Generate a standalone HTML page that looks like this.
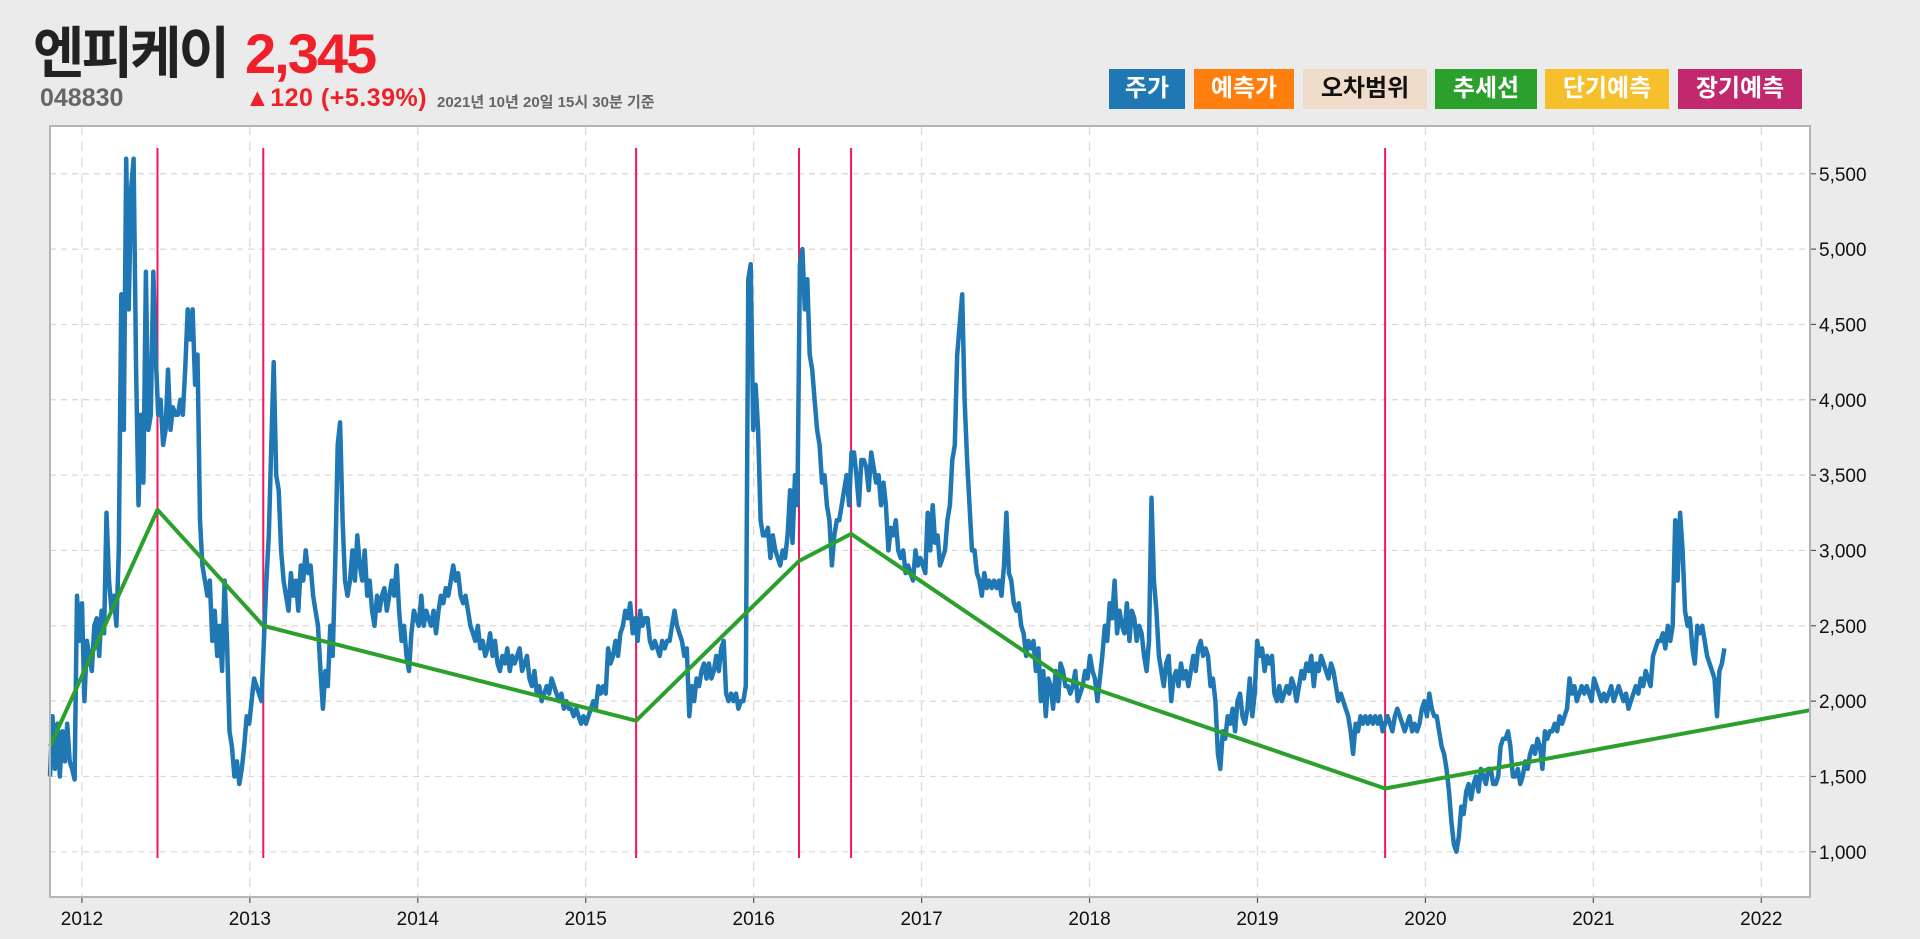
<!DOCTYPE html>
<html><head><meta charset="utf-8">
<style>
html,body{margin:0;padding:0;background:#ebebeb;width:1920px;height:939px;overflow:hidden;font-family:"Liberation Sans","Noto Sans CJK KR",sans-serif;}
.abs{position:absolute;}
.title{left:33px;top:22px;font-size:56px;font-weight:bold;color:#222;letter-spacing:-3px;line-height:64px;}
.price{left:245px;top:22px;font-size:56px;font-weight:bold;color:#f0202a;line-height:64px;letter-spacing:-2px;}
.code{left:40px;top:84px;font-size:25px;font-weight:bold;color:#666;}
.chg{left:245px;top:84px;font-size:25px;font-weight:bold;color:#f0202a;letter-spacing:0.5px;}
.date{left:437px;top:91px;font-size:15px;font-weight:bold;color:#666;}
.leg{top:69px;height:40px;line-height:40px;text-align:center;font-size:24px;font-weight:bold;color:#fff;}
</style></head><body>
<div class="abs title">엔피케이</div>
<div class="abs price">2,345</div>
<div class="abs code">048830</div>
<div class="abs chg">▲120 (+5.39%)</div>
<div class="abs date">2021년 10년 20일 15시 30분 기준</div>
<div class="abs leg" style="left:1109px;width:76px;background:#1f77b4">주가</div>
<div class="abs leg" style="left:1194px;width:100px;background:#ff7f0e">예측가</div>
<div class="abs leg" style="left:1303px;width:124px;background:#efdccb;color:#111">오차범위</div>
<div class="abs leg" style="left:1435px;width:102px;background:#2ca02c">추세선</div>
<div class="abs leg" style="left:1545px;width:124px;background:#f5c02c">단기예측</div>
<div class="abs leg" style="left:1678px;width:124px;background:#c2286e">장기예측</div>
<svg id="chart" class="abs" style="left:0;top:0" width="1920" height="939"></svg>
<script>
const yTicks=[1000,1500,2000,2500,3000,3500,4000,4500,5000,5500];
const xTickYears=[2012,2013,2014,2015,2016,2017,2018,2019,2020,2021,2022];
const signalDates=[2012.45,2013.08,2015.30,2016.27,2016.58,2019.76];
const trendDates=[2011.81,2012.45,2013.08,2015.30,2016.27,2016.58,2017.85,2019.76,2022.29];
const trendValues=[1700,3270,2500,1870,2930,3110,2150,1420,1940];
const priceStart=2011.81, priceEnd=2021.78;
const priceValues=[1500,1900,1550,1850,1500,1800,1600,1850,1600,1550,1480,2700,2400,2650,2000,2400,2300,2200,2500,2550,2300,2600,2450,3250,2800,2600,2700,2500,3000,4700,3800,5600,4600,5400,5600,4200,3300,3900,3450,4850,3800,3900,4850,4300,3900,4000,3700,3800,4200,3800,3950,3900,3900,4000,3900,4200,4600,4400,4600,4100,4300,3200,2900,2800,2700,2800,2400,2600,2300,2500,2200,2800,2400,1800,1700,1500,1600,1450,1550,1700,1900,1850,2000,2150,2100,2050,2000,2400,2800,3100,3700,4250,3500,3400,3000,2800,2700,2600,2850,2700,2800,2600,2900,2800,3000,2850,2900,2700,2600,2500,2200,1950,2200,2100,2500,2300,2900,3700,3850,3200,2800,2700,2800,3000,2800,3100,2900,2800,3000,2700,2800,2600,2500,2700,2600,2700,2750,2600,2700,2800,2700,2900,2600,2400,2500,2300,2200,2450,2600,2550,2500,2700,2500,2600,2550,2500,2600,2450,2600,2700,2650,2750,2700,2800,2900,2800,2850,2700,2650,2700,2600,2500,2450,2400,2500,2350,2400,2300,2350,2450,2300,2400,2250,2200,2300,2250,2350,2200,2300,2250,2300,2350,2200,2250,2300,2150,2100,2200,2050,2100,2000,2050,2100,2050,2150,2100,2050,2000,2050,1950,2000,1950,1950,1900,1950,1900,1850,1900,1850,1900,1950,2000,1950,2100,2050,2100,2050,2350,2250,2300,2400,2300,2450,2500,2600,2550,2650,2450,2550,2400,2600,2500,2550,2550,2400,2350,2400,2350,2300,2400,2350,2400,2400,2500,2600,2500,2450,2400,2300,2350,1900,2100,2000,2150,2100,2200,2250,2150,2250,2150,2200,2300,2200,2350,2400,2050,2000,2050,2000,2050,1950,2000,2000,2100,4800,4900,3800,4100,3800,3200,3100,3100,3150,2950,3100,3000,2950,2900,3000,2950,3100,3400,3050,3500,3300,4900,5000,4600,4800,4300,4200,4000,3800,3700,3450,3500,3300,3200,2900,3100,3200,3200,3300,3400,3500,3300,3650,3650,3500,3300,3600,3600,3550,3400,3650,3550,3450,3500,3300,3450,3300,3000,3150,3100,3200,3000,2950,3000,2850,2900,2850,2800,3000,2900,2950,2900,2850,3250,3000,3300,3050,3100,2900,2950,3000,3200,3300,3600,3700,4300,4500,4700,4000,3600,3300,3000,3000,2850,2800,2700,2850,2750,2800,2750,2800,2750,2800,2700,2900,3250,2850,2800,2650,2600,2650,2500,2450,2300,2400,2350,2400,2200,2350,2000,2200,1900,2150,2100,1950,2200,2000,2250,2200,2100,2100,2050,2100,2200,2000,2050,2100,2200,2150,2300,2200,2150,2000,2150,2300,2500,2400,2650,2550,2800,2450,2600,2500,2450,2650,2400,2600,2550,2400,2500,2450,2300,2200,2400,3350,2800,2600,2300,2200,2100,2250,2300,2000,2150,2200,2100,2250,2150,2200,2100,2200,2300,2200,2350,2400,2300,2350,2300,2100,2150,2000,1650,1550,1800,1750,1900,1850,1950,1800,2000,2050,1900,1850,1950,2150,1900,2050,2400,2300,2350,2200,2300,2250,2300,2050,2000,2100,2000,2050,2100,2050,2150,2100,2000,2100,2200,2150,2250,2200,2300,2100,2250,2200,2300,2250,2200,2150,2250,2200,2100,2000,2050,2000,1950,1900,1800,1650,1850,1800,1900,1850,1900,1850,1900,1850,1900,1850,1900,1800,1850,1900,1850,1800,1900,1950,1900,1850,1800,1850,1900,1800,1850,1800,1850,1950,2000,1900,2050,1950,1900,1900,1800,1700,1650,1550,1400,1200,1050,1000,1100,1300,1250,1400,1450,1350,1450,1500,1400,1550,1500,1450,1550,1550,1450,1450,1500,1700,1750,1750,1800,1700,1500,1500,1550,1450,1500,1600,1550,1650,1700,1650,1750,1700,1550,1800,1750,1800,1800,1850,1800,1900,1850,1900,1950,2150,2050,2100,2000,2050,2100,2050,2100,2050,2000,2150,2100,2050,2000,2050,2000,2050,2100,2000,2050,2100,2050,2000,2050,1950,2000,2050,2100,2050,2150,2100,2200,2150,2100,2300,2350,2400,2400,2450,2350,2500,2400,2500,3200,2800,3250,3000,2600,2500,2550,2350,2250,2500,2450,2500,2400,2300,2250,2200,2150,1900,2200,2250,2350];

const L=50,R=1810,T=126,B=897;
const X0=2011.81,X1=2022.29,Y0=700,Y1=5817;
const sx=v=>L+(v-X0)/(X1-X0)*(R-L);
const sy=v=>B-(v-Y0)/(Y1-Y0)*(B-T);
const svg=document.getElementById('chart');
const NS='http://www.w3.org/2000/svg';
function mk(tag,attrs,parent){const e=document.createElementNS(NS,tag);for(const k in attrs)e.setAttribute(k,attrs[k]);(parent||svg).appendChild(e);return e;}

const bg=mk('rect',{x:L,y:T,width:R-L,height:B-T,fill:'#fff'});



yTicks.forEach(v=>{
  const g=mk('line',{x1:L,x2:R,y1:sy(v),y2:sy(v),stroke:'#d8d8d8','stroke-width':1.2,'stroke-dasharray':'6,5'});
  
  
  mk('line',{x1:R,x2:R+6,y1:sy(v),y2:sy(v),stroke:'#555','stroke-width':1.2});
  const t=mk('text',{x:R+9,y:sy(v)+7,'font-size':19,fill:'#111','font-family':'Liberation Sans, sans-serif'});
  t.textContent=v.toLocaleString('en-US');
  
  
});
xTickYears.forEach(yr=>{
  const g=mk('line',{x1:sx(yr),x2:sx(yr),y1:T,y2:B,stroke:'#d8d8d8','stroke-width':1.2,'stroke-dasharray':'9,7'});
  
  
  mk('line',{x1:sx(yr),x2:sx(yr),y1:B,y2:B+6,stroke:'#555','stroke-width':1.2});
  const t=mk('text',{x:sx(yr),y:B+28,'font-size':19,fill:'#111','text-anchor':'middle','font-family':'Liberation Sans, sans-serif'});
  t.textContent=yr;
  
  
});

signalDates.forEach(d=>{
  const l=mk('line',{x1:sx(d),x2:sx(d),y1:148,y2:858,stroke:'#f5145f','stroke-width':2});
  
  
});

const n=priceValues.length;
let p='';
priceValues.forEach((v,i)=>{const d=priceStart+(priceEnd-priceStart)*i/(n-1);p+=(i?'L':'M')+sx(d).toFixed(1)+','+sy(v).toFixed(1);});
const pl=mk('path',{d:p,fill:'none',stroke:'#1f77b4','stroke-width':4.5,'stroke-linejoin':'round'});



let tp='';
trendDates.forEach((d,i)=>{tp+=(i?'L':'M')+sx(d).toFixed(1)+','+sy(trendValues[i]).toFixed(1);});
const tl=mk('path',{d:tp,fill:'none',stroke:'#2ca02c','stroke-width':4,'stroke-linejoin':'round'});



const bd=mk('rect',{x:L,y:T,width:R-L,height:B-T,fill:'none',stroke:'#b5b5b5','stroke-width':2});


</script>
</body></html>
